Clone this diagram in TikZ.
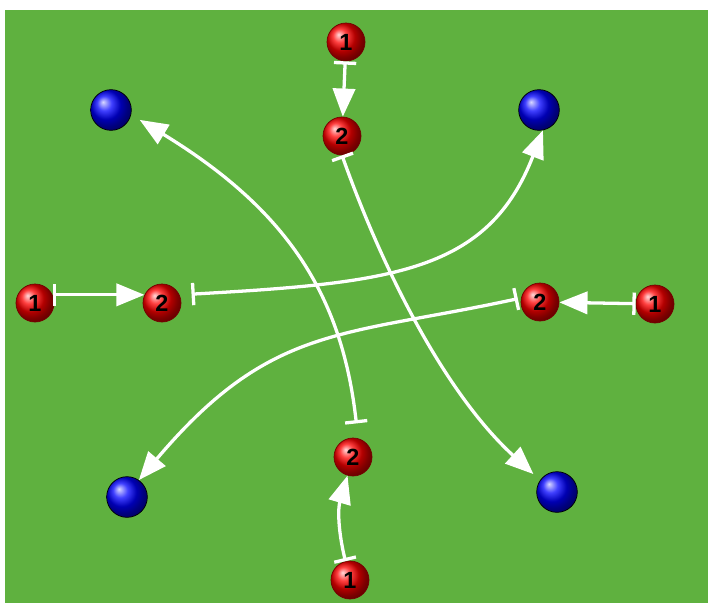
\documentclass[tikz,border=0pt]{standalone}
\usepackage{fontspec}
\setmainfont{Liberation Sans}
\usetikzlibrary{arrows.meta}
\definecolor{field}{RGB}{95,177,63}
\begin{document}
\begin{tikzpicture}[x=0.03cm,y=-0.03cm,
 redball/.style={circle,minimum size=1.14cm,inner sep=0pt,shading=ball,ball color=red,draw=black!55!red,line width=0.6pt,font=\fontsize{20}{20}\selectfont\bfseries,text=black},
 blueball/.style={circle,minimum size=1.22cm,inner sep=0pt,shading=ball,ball color=blue,draw=black,line width=0.6pt},
 runbar/.style={draw=white,line width=2.8pt,{Bar[width=19pt]}-{Triangle[length=24pt,width=19pt]}}
]
\useasboundingbox (0,0) rectangle (712,603);
\fill[white] (0,0) rectangle (712,603);
\fill[field] (5,10) rectangle (708,603);
% red players
\node[redball] (t1) at (346,42) {1};
\node[redball] (t2) at (342,136) {2};
\node[redball] (l1) at (35,303) {1};
\node[redball] (l2) at (162,303) {2};
\node[redball] (r1) at (655,304) {1};
\node[redball] (r2) at (540,302) {2};
\node[redball] (b2) at (353,457) {2};
\node[redball] (b1) at (350,580) {1};
% blue players
\node[blueball] (bTL) at (111,110) {};
\node[blueball] (bTR) at (539,110) {};
\node[blueball] (bBL) at (127,497) {};
\node[blueball] (bBR) at (557,492) {};
% passes
\draw[runbar] (t1) -- (t2);
\draw[runbar] (l1.25) -- (l2.155);
\draw[runbar] (r1) -- (r2);
\draw[runbar] (b1) to[bend left=15] (b2);
% runs
\draw[runbar,shorten <=0.36cm] (l2.25) .. controls +(213,-12) and +(-55,142) .. (bTR.-79);
\draw[runbar,shorten <=0.1cm] (r2.168) .. controls +(-180,39) and +(132,-156) .. (bBL.55);
\draw[runbar,shorten >=0.27cm] (t2.south) .. controls +(41,115) and +(-95,-87) .. (bBR.145);
\draw[runbar,shorten <=0.45cm,shorten >=0.3cm] (b2.75) .. controls +(-16,-145) and +(154,94) .. (bTL.-13);
\end{tikzpicture}
\end{document}
